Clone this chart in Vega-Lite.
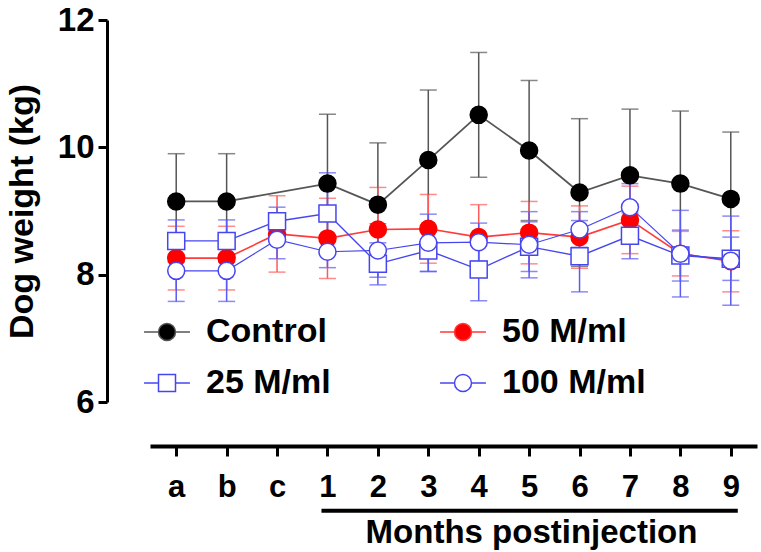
{
  "$schema": "https://vega.github.io/schema/vega-lite/v6.json",
  "width": 607,
  "height": 382,
  "autosize": {"type": "none"},
  "padding": {"left": 150, "top": 20, "right": 4, "bottom": 150},
  "background": "white",
  "config": {"view": {"stroke": null}, "font": "Liberation Sans", "axis": {"grid": false}},
  "data": {"values": [
    {"g": "Control", "t": "a", "m": 9.15, "sd": 0.75},
    {"g": "Control", "t": "b", "m": 9.15, "sd": 0.75},
    {"g": "Control", "t": "1", "m": 9.43, "sd": 1.09},
    {"g": "Control", "t": "2", "m": 9.10, "sd": 0.97},
    {"g": "Control", "t": "3", "m": 9.80, "sd": 1.10},
    {"g": "Control", "t": "4", "m": 10.51, "sd": 0.98},
    {"g": "Control", "t": "5", "m": 9.95, "sd": 1.10},
    {"g": "Control", "t": "6", "m": 9.29, "sd": 1.16},
    {"g": "Control", "t": "7", "m": 9.56, "sd": 1.04},
    {"g": "Control", "t": "8", "m": 9.43, "sd": 1.14},
    {"g": "Control", "t": "9", "m": 9.19, "sd": 1.05},
    {"g": "50 M/ml", "t": "a", "m": 8.26, "sd": 0.50},
    {"g": "50 M/ml", "t": "b", "m": 8.26, "sd": 0.50},
    {"g": "50 M/ml", "t": "c", "m": 8.64, "sd": 0.60},
    {"g": "50 M/ml", "t": "1", "m": 8.57, "sd": 0.63},
    {"g": "50 M/ml", "t": "2", "m": 8.71, "sd": 0.66},
    {"g": "50 M/ml", "t": "3", "m": 8.72, "sd": 0.54},
    {"g": "50 M/ml", "t": "4", "m": 8.59, "sd": 0.51},
    {"g": "50 M/ml", "t": "5", "m": 8.66, "sd": 0.49},
    {"g": "50 M/ml", "t": "6", "m": 8.59, "sd": 0.49},
    {"g": "50 M/ml", "t": "7", "m": 8.86, "sd": 0.53},
    {"g": "50 M/ml", "t": "8", "m": 8.33, "sd": 0.35},
    {"g": "50 M/ml", "t": "9", "m": 8.21, "sd": 0.48},
    {"g": "25 M/ml", "t": "a", "m": 8.53, "sd": 0.33},
    {"g": "25 M/ml", "t": "b", "m": 8.53, "sd": 0.33},
    {"g": "25 M/ml", "t": "c", "m": 8.84, "sd": 0.22},
    {"g": "25 M/ml", "t": "1", "m": 8.96, "sd": 0.64},
    {"g": "25 M/ml", "t": "2", "m": 8.17, "sd": 0.33},
    {"g": "25 M/ml", "t": "3", "m": 8.38, "sd": 0.33},
    {"g": "25 M/ml", "t": "4", "m": 8.08, "sd": 0.49},
    {"g": "25 M/ml", "t": "5", "m": 8.44, "sd": 0.39},
    {"g": "25 M/ml", "t": "6", "m": 8.29, "sd": 0.56},
    {"g": "25 M/ml", "t": "7", "m": 8.61, "sd": 0.36},
    {"g": "25 M/ml", "t": "8", "m": 8.30, "sd": 0.40},
    {"g": "25 M/ml", "t": "9", "m": 8.25, "sd": 0.34},
    {"g": "100 M/ml", "t": "a", "m": 8.06, "sd": 0.48},
    {"g": "100 M/ml", "t": "b", "m": 8.06, "sd": 0.48},
    {"g": "100 M/ml", "t": "c", "m": 8.55, "sd": 0.30},
    {"g": "100 M/ml", "t": "1", "m": 8.36, "sd": 0.25},
    {"g": "100 M/ml", "t": "2", "m": 8.38, "sd": 0.42},
    {"g": "100 M/ml", "t": "3", "m": 8.50, "sd": 0.45},
    {"g": "100 M/ml", "t": "4", "m": 8.51, "sd": 0.30},
    {"g": "100 M/ml", "t": "5", "m": 8.47, "sd": 0.52},
    {"g": "100 M/ml", "t": "6", "m": 8.71, "sd": 0.28},
    {"g": "100 M/ml", "t": "7", "m": 9.06, "sd": 0.37},
    {"g": "100 M/ml", "t": "8", "m": 8.33, "sd": 0.68},
    {"g": "100 M/ml", "t": "9", "m": 8.22, "sd": 0.70}
  ]},
  "resolve": {
    "scale": {"shape": "independent", "fill": "independent", "stroke": "independent", "color": "independent", "strokeWidth": "independent"},
    "legend": {"shape": "independent", "fill": "independent", "stroke": "independent", "color": "independent", "strokeWidth": "independent"}
  },
  "layer": [
    {
      "mark": {"type": "errorbar", "ticks": true, "size": 17, "thickness": 1.5},
      "encoding": {
        "x": {"field": "t", "type": "ordinal",
          "scale": {"type": "point", "domain": ["a","b","c","1","2","3","4","5","6","7","8","9"], "padding": 0.52},
          "axis": {"offset": 44, "domainWidth": 4, "domainColor": "black", "tickWidth": 3, "tickColor": "black", "tickSize": 10,
            "labelAngle": 0, "labelPadding": 16, "labelFontSize": 31, "labelFontWeight": "bold", "labelColor": "black", "labelFont": "Liberation Sans",
            "title": "Months postinjection", "titleFontSize": 33, "titleFontWeight": "bold", "titleColor": "black", "titleFont": "Liberation Sans",
            "titleX": 381, "titleY": 96, "titleBaseline": "alphabetic", "titleAlign": "center", "grid": false}},
        "y": {"field": "m", "type": "quantitative",
          "scale": {"domain": [6, 12], "nice": false, "zero": false},
          "axis": {"values": [6, 8, 10, 12], "format": "d", "offset": 43, "domainWidth": 3, "domainColor": "black", "tickWidth": 3, "tickColor": "black", "tickSize": 9,
            "labelPadding": 4, "labelFontSize": 33, "labelFontWeight": "bold", "labelColor": "black", "labelFont": "Liberation Sans",
            "title": "Dog weight (kg)", "titleFontSize": 34, "titleFontWeight": "bold", "titleColor": "black", "titleFont": "Liberation Sans", "titlePadding": 18, "grid": false}},
        "yError": {"field": "sd"},
        "color": {"field": "g", "type": "nominal",
          "scale": {"domain": ["Control", "50 M/ml", "25 M/ml", "100 M/ml"], "range": ["#555555", "#ff5a5a", "#5a5af5", "#5a5af5"]},
          "legend": null}
      }
    },
    {
      "mark": {"type": "line"},
      "encoding": {
        "x": {"field": "t", "type": "ordinal", "scale": {"type": "point", "domain": ["a","b","c","1","2","3","4","5","6","7","8","9"], "padding": 0.52}},
        "y": {"field": "m", "type": "quantitative", "scale": {"domain": [6, 12], "nice": false, "zero": false}},
        "stroke": {"field": "g", "type": "nominal",
          "scale": {"domain": ["Control", "50 M/ml", "25 M/ml", "100 M/ml"], "range": ["#555555", "#ff3b3b", "#4646f0", "#4646f0"]},
          "legend": null},
        "strokeWidth": {"field": "g", "type": "nominal",
          "scale": {"domain": ["Control", "50 M/ml", "25 M/ml", "100 M/ml"], "range": [1.8, 1.2, 1.5, 1.5]},
          "legend": null},
        "order": {"value": null}
      }
    },
    {
      "mark": {"type": "point", "size": 289, "strokeWidth": 1.5, "opacity": 1},
      "encoding": {
        "x": {"field": "t", "type": "ordinal", "scale": {"type": "point", "domain": ["a","b","c","1","2","3","4","5","6","7","8","9"], "padding": 0.52}},
        "y": {"field": "m", "type": "quantitative", "scale": {"domain": [6, 12], "nice": false, "zero": false}},
        "shape": {"field": "g", "type": "nominal",
          "scale": {"domain": ["Control", "50 M/ml", "25 M/ml", "100 M/ml"], "range": ["circle", "circle", "square", "circle"]},
          "legend": null},
        "fill": {"field": "g", "type": "nominal",
          "scale": {"domain": ["Control", "50 M/ml", "25 M/ml", "100 M/ml"], "range": ["#000000", "#ff0000", "#ffffff", "#ffffff"]},
          "legend": null},
        "stroke": {"field": "g", "type": "nominal",
          "scale": {"domain": ["Control", "50 M/ml", "25 M/ml", "100 M/ml"], "range": ["#000000", "#ff0000", "#4646f0", "#4646f0"]},
          "legend": null}
      }
    },
    {
      "transform": [{"filter": "datum.sd < 0"}],
      "mark": {"type": "point", "size": 289, "strokeWidth": 1.5, "opacity": 1},
      "encoding": {
        "x": {"field": "t", "type": "ordinal", "scale": {"type": "point", "domain": ["a","b","c","1","2","3","4","5","6","7","8","9"], "padding": 0.52}},
        "y": {"field": "m", "type": "quantitative", "scale": {"domain": [6, 12], "nice": false, "zero": false}},
        "shape": {"field": "g", "type": "nominal",
          "scale": {"domain": ["Control", "25 M/ml", "50 M/ml", "100 M/ml"],
            "range": ["M-2.7,0H-1M1,0H2.7M1,0A1,1,0,1,1,-1,0A1,1,0,1,1,1,0Z", "M-2.7,0H-1M1,0H2.7M-1,-1H1V1H-1Z", "M-2.7,0H-1M1,0H2.7M1,0A1,1,0,1,1,-1,0A1,1,0,1,1,1,0Z", "M-2.7,0H-1M1,0H2.7M1,0A1,1,0,1,1,-1,0A1,1,0,1,1,1,0Z"]},
          "legend": {"title": null, "orient": "none", "legendX": 0, "legendY": 295, "columns": 2, "columnPadding": 106, "rowPadding": 17,
            "labelFontSize": 34, "labelFontWeight": "bold", "labelColor": "black", "labelFont": "Liberation Sans", "labelLimit": 400, "labelOffset": 22,
            "symbolSize": 289, "symbolStrokeWidth": 1.5, "padding": 0}},
        "fill": {"field": "g", "type": "nominal",
          "scale": {"domain": ["Control", "25 M/ml", "50 M/ml", "100 M/ml"], "range": ["#000000", "#ffffff", "#ff0000", "#ffffff"]},
          "legend": {"title": null, "orient": "none", "legendX": 0, "legendY": 295, "columns": 2, "columnPadding": 106, "rowPadding": 17,
            "labelFontSize": 34, "labelFontWeight": "bold", "labelColor": "black", "labelFont": "Liberation Sans", "labelLimit": 400, "labelOffset": 22,
            "symbolSize": 289, "symbolStrokeWidth": 1.5, "padding": 0}},
        "stroke": {"field": "g", "type": "nominal",
          "scale": {"domain": ["Control", "25 M/ml", "50 M/ml", "100 M/ml"], "range": ["#555555", "#4646f0", "#ff3b3b", "#4646f0"]},
          "legend": {"title": null, "orient": "none", "legendX": 0, "legendY": 295, "columns": 2, "columnPadding": 106, "rowPadding": 17,
            "labelFontSize": 34, "labelFontWeight": "bold", "labelColor": "black", "labelFont": "Liberation Sans", "labelLimit": 400, "labelOffset": 22,
            "symbolSize": 289, "symbolStrokeWidth": 1.5, "padding": 0}}
      }
    },
    {
      "data": {"values": [{}]},
      "mark": {"type": "rule", "strokeWidth": 4, "color": "black", "xOffset": -6, "x2Offset": 7},
      "encoding": {
        "x": {"datum": "1", "type": "ordinal", "scale": {"type": "point", "domain": ["a","b","c","1","2","3","4","5","6","7","8","9"], "padding": 0.52}},
        "x2": {"datum": "9"},
        "y": {"datum": 4.29, "type": "quantitative", "scale": {"domain": [6, 12], "nice": false, "zero": false}}
      }
    }
  ]
}
